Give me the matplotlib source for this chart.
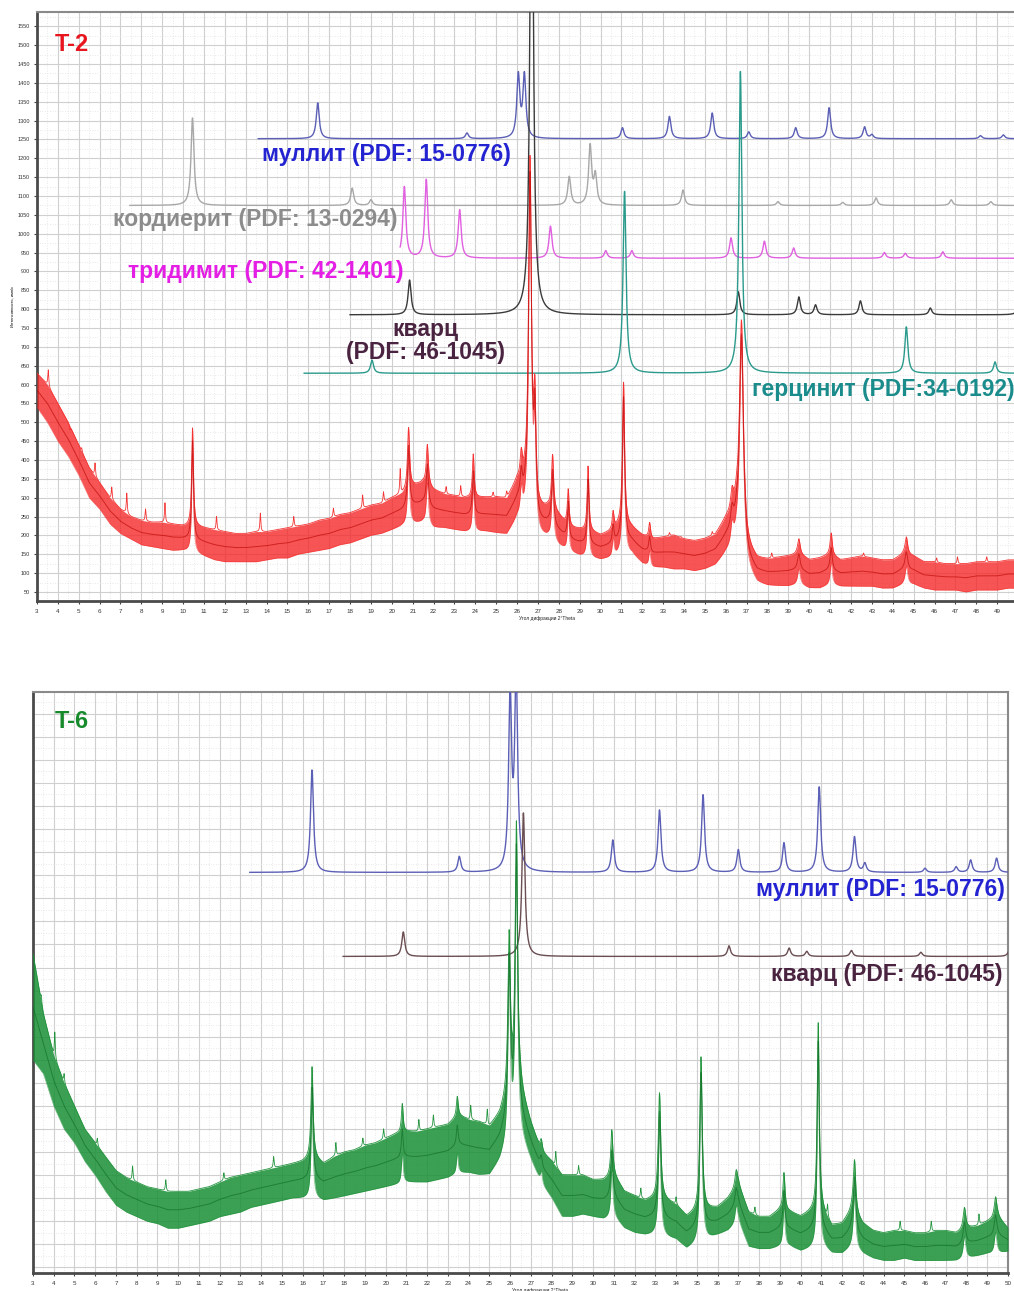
import numpy as np
import matplotlib
matplotlib.use("Agg")
import matplotlib.pyplot as plt
from matplotlib.ticker import MultipleLocator

plt.rcParams['font.family'] = ['Liberation Sans', 'DejaVu Sans']

# ---------------- data: T-2 experimental pattern (red) ----------------
angle_grid = np.arange(3.0, 50.01, 0.5)
t2_low = [540, 500, 450, 410, 360, 300, 270, 230, 205, 190,
          175, 170, 165, 160, 160, 155, 145, 135, 130, 130,
          130, 130, 135, 140, 140, 150, 155, 160, 165, 175,
          180, 190, 200, 205, 215, 225, 230, 235, 220, 220,
          215, 210, 210, 210, 205, 200, 240, 240, 190, 190,
          170, 155, 145, 140, 135, 140, 150, 150, 125, 115,
          115, 110, 110, 105, 110, 120, 150, 170, 100, 70,
          65, 65, 65, 70, 60, 60, 70, 65, 65, 65,
          65, 60, 60, 70, 70, 60, 55, 55, 55, 50,
          55, 55, 55, 60, 60]
t2_high = [630, 600, 550, 500, 440, 380, 340, 300, 270, 250,
           240, 235, 235, 230, 225, 225, 220, 215, 210, 205,
           205, 210, 210, 215, 220, 225, 230, 240, 245, 255,
           260, 270, 280, 285, 300, 310, 330, 340, 320, 310,
           305, 300, 300, 300, 300, 295, 340, 330, 260, 270,
           250, 220, 215, 210, 200, 210, 230, 220, 200, 190,
           195, 200, 190, 185, 190, 200, 240, 260, 160, 135,
           135, 140, 145, 150, 135, 140, 150, 135, 140, 145,
           140, 135, 135, 150, 145, 130, 130, 125, 125, 125,
           130, 130, 130, 135, 135]
t2_peak_pos = [10.45, 20.8, 21.7, 23.9, 26.2, 26.62, 26.85, 27.7, 28.45, 29.4,
               30.6, 31.1, 32.35, 36.3, 36.75, 39.5, 41.05, 44.65]
t2_peak_top = [485, 485, 440, 415, 400, 1190, 530, 408, 320, 382,
               260, 605, 233, 300, 770, 190, 206, 196]
t2_peak_fwhm = [0.10, 0.12, 0.12, 0.10, 0.12, 0.16, 0.12, 0.12, 0.10, 0.10,
                0.10, 0.12, 0.10, 0.15, 0.22, 0.15, 0.12, 0.15]
# small noise spikes visible on the T-2 trace
t2_spike_pos = [3.54, 4.58, 5.14, 5.78, 6.58, 7.3, 8.2, 9.13, 11.6, 13.7, 15.3, 17.2,
                18.6, 19.6, 20.4, 22.6, 23.3, 24.85, 25.5, 33.3, 33.85, 35.35, 38.2,
                42.6, 46.1, 47.1, 48.5]
t2_spike_top = [639, 480, 432, 392, 328, 312, 270, 286, 250, 259, 250, 272,
                307, 315, 373, 328, 330, 312, 312, 206, 196, 206, 150,
                153, 140, 143, 143]

# reference phases for T-2: (start angle, baseline, peak positions, peak tops)
t2_mullite_start, t2_mullite_base = 13.6, 1252
t2_mullite_pos = [16.45, 23.6, 26.06, 26.35, 31.05, 33.3, 35.35, 37.1, 39.35, 40.95, 42.65, 43.0, 48.2, 49.3]
t2_mullite_top = [1347, 1267, 1417, 1417, 1281, 1311, 1320, 1270, 1281, 1334, 1283, 1262, 1260, 1262]

t2_cord_start, t2_cord_base = 7.45, 1075
t2_cord_pos = [10.45, 18.1, 19.0, 28.5, 29.5, 29.75, 33.95, 38.5, 41.6, 43.2, 46.8, 48.7]
t2_cord_top = [1307, 1121, 1090, 1151, 1231, 1151, 1116, 1085, 1083, 1095, 1090, 1085]

t2_trid_start, t2_trid_base = 20.4, 935
t2_trid_pos = [20.6, 21.65, 23.25, 27.6, 30.25, 31.5, 36.25, 37.85, 39.25, 43.6, 44.6, 46.4]
t2_trid_top = [1124, 1143, 1063, 1020, 955, 955, 989, 980, 962, 950, 948, 952]

t2_quartz_start, t2_quartz_base = 18.0, 785
t2_quartz_pos = [20.85, 26.7, 36.6, 39.5, 40.3, 42.45, 45.8, 50.1]
t2_quartz_top = [877, 2400, 846, 832, 811, 822, 803, 835]

t2_herc_start, t2_herc_base = 15.8, 630
t2_herc_pos = [19.05, 31.15, 36.7, 44.65, 48.9]
t2_herc_top = [665, 1112, 1430, 753, 660]

# ---------------- data: T-6 experimental pattern (green) ----------------
t6_low = [500, 470, 400, 350, 320, 280, 250, 215, 185, 170,
          160, 150, 145, 135, 135, 140, 145, 150, 160, 165,
          170, 180, 185, 190, 195, 200, 200, 200, 195, 200,
          205, 210, 215, 220, 225, 230, 235, 235, 235, 240,
          245, 255, 255, 250, 250, 280, 330, 330, 280, 230,
          200, 160, 160, 165, 160, 155, 160, 135, 125, 120,
          120, 115, 110, 90, 100, 110, 120, 130, 150, 95,
          90, 90, 95, 95, 85, 90, 95, 80, 80, 95,
          80, 70, 65, 65, 70, 65, 65, 65, 65, 65,
          70, 75, 80, 80, 85]
t6_high = [730, 600, 510, 450, 400, 350, 320, 290, 260, 245,
           235, 225, 220, 215, 215, 215, 220, 225, 235, 245,
           250, 255, 260, 265, 270, 275, 280, 290, 275, 290,
           300, 305, 315, 320, 330, 340, 345, 345, 350, 355,
           360, 380, 370, 365, 355, 380, 430, 430, 360, 300,
           280, 250, 250, 250, 240, 240, 250, 215, 205, 195,
           200, 195, 185, 160, 170, 175, 180, 200, 230, 170,
           160, 160, 175, 170, 160, 170, 175, 140, 145, 175,
           145, 130, 125, 130, 130, 125, 125, 130, 130, 125,
           135, 140, 150, 160, 135]
t6_peak_pos = [16.45, 20.8, 23.45, 25.95, 26.3, 27.5, 30.9, 33.2, 35.2, 36.9,
               39.2, 40.85, 42.6, 47.9, 49.4]
t6_peak_top = [485, 405, 420, 760, 1005, 326, 348, 428, 506, 261,
               255, 580, 283, 180, 203]
t6_peak_fwhm = [0.12, 0.10, 0.10, 0.14, 0.14, 0.12, 0.12, 0.14, 0.14, 0.15,
                0.12, 0.12, 0.14, 0.15, 0.15]
t6_spike_pos = [3.4, 4.05, 4.5, 6.1, 7.8, 9.4, 12.2, 14.6, 17.6, 18.9, 19.9, 21.6,
                22.3, 24.1, 24.9, 28.2, 29.3, 32.3, 34.0, 37.8, 41.3, 44.8, 46.3, 48.6]
t6_spike_top = [640, 560, 470, 330, 270, 240, 255, 290, 320, 330, 350, 370,
                380, 400, 390, 300, 270, 220, 200, 180, 180, 150, 150, 165]

t6_mullite_start, t6_mullite_base = 13.45, 906
t6_mullite_pos = [16.45, 23.55, 26.0, 26.29, 30.95, 33.2, 35.3, 37.0, 39.2, 40.9, 42.6, 43.1, 46.0, 47.5, 48.2, 49.45]
t6_mullite_top = [1128, 940, 1284, 1330, 976, 1041, 1074, 955, 970, 1091, 983, 925, 915, 918, 933, 937]

t6_quartz_start, t6_quartz_base = 17.95, 724
t6_quartz_pos = [20.85, 26.64, 36.55, 39.45, 40.3, 42.45, 45.8, 50.1]
t6_quartz_top = [777, 1035, 747, 742, 735, 737, 733, 745]

t2_x_ticks = list(range(3, 50))
t6_x_ticks = list(range(3, 51))
t2_y_ticks = list(range(50, 1551, 50))

# ---------------- helpers ----------------
xf = np.linspace(3.0, 50.0, 9401)


def lorentz_sum(x, pos, heights, fwhm):
    out = np.zeros_like(x)
    for p, h, w in zip(pos, heights, fwhm):
        out += h / (1.0 + ((x - p) / (w / 2.0)) ** 2)
    return out


def draw_experimental(ax, low, high, pos, top, fwhm, spos, stop, color, edge, alpha):
    lo = np.interp(xf, angle_grid, low)
    hi = np.interp(xf, angle_grid, high)
    heights = np.array(top) - np.interp(pos, angle_grid, high)
    prof = lorentz_sum(xf, pos, heights, fwhm)
    sh = np.array(stop) - np.interp(spos, angle_grid, high)
    spikes = lorentz_sum(xf, spos, sh, [0.05] * len(spos))
    ax.fill_between(xf, lo + prof, hi + prof, color=color, lw=0, alpha=alpha, zorder=4)
    ax.plot(xf, hi + prof + spikes, color=color, lw=0.6, alpha=0.95, zorder=4)
    ax.plot(xf, lo + prof, color=color, lw=0.5, alpha=0.6, zorder=4)
    ax.plot(xf, (lo + hi) / 2 + prof, color=edge, lw=0.7, alpha=0.6, zorder=5)


def draw_reference(ax, start, base, pos, top, color, fwhm=0.17, lw=1.0):
    xs = xf[xf >= start]
    heights = np.array(top) - base
    y = base + lorentz_sum(xs, pos, heights, [fwhm] * len(pos))
    ax.plot(xs, y, color=color, lw=lw, zorder=3)


def style_axes(ax, ylim, show_y, xt):
    ax.set_xlim(3, 50)
    ax.set_ylim(*ylim)
    ax.xaxis.set_minor_locator(MultipleLocator(0.5))
    ax.yaxis.set_major_locator(MultipleLocator(50))
    ax.yaxis.set_minor_locator(MultipleLocator(25))
    ax.set_xticks(xt)
    ax.set_xticklabels([str(t) for t in xt], fontsize=4.5, color='#333333')
    ax.grid(True, which='major', color='#cfcfcf', lw=0.8, zorder=0)
    ax.grid(True, which='minor', color='#e2e2e2', lw=0.6, ls=(0, (1, 2)), zorder=0)
    ax.set_axisbelow(True)
    ax.tick_params(axis='x', which='major', length=2, pad=4, color='#444444')
    ax.tick_params(axis='both', which='minor', length=0)
    if show_y:
        ax.set_yticks(t2_y_ticks)
        ax.set_yticklabels([str(t) for t in t2_y_ticks], fontsize=4, color='#333333')
        ax.tick_params(axis='y', which='major', length=2, pad=3, color='#444444')
    else:
        ax.tick_params(axis='y', which='major', length=0, labelleft=False)
    for s in ('left', 'bottom'):
        ax.spines[s].set_color('#4a4a4a')
        ax.spines[s].set_linewidth(2.0)
    for s in ('top', 'right'):
        ax.spines[s].set_color('#8a8a8a')
        ax.spines[s].set_linewidth(1.5)
    ax.set_xlabel('Угол дифракции 2°Theta', fontsize=3.5, labelpad=1, color='#222222')
    ax.xaxis.set_label_coords(0.52, -0.025)


fig = plt.figure(figsize=(10.14, 12.91), dpi=100)

# ---------------- top panel (T-2) ----------------
ax1 = fig.add_axes([37 / 1014, 1 - 601 / 1291, 981 / 1014, 589 / 1291])
style_axes(ax1, (26, 1588), True, t2_x_ticks)
ax1.set_ylabel('Интенсивность, имп/с', fontsize=3, labelpad=2)

draw_reference(ax1, t2_mullite_start, t2_mullite_base, t2_mullite_pos, t2_mullite_top, '#5b5fb5')
draw_reference(ax1, t2_cord_start, t2_cord_base, t2_cord_pos, t2_cord_top, '#a8a8a8')
draw_reference(ax1, t2_trid_start, t2_trid_base, t2_trid_pos, t2_trid_top, '#e060e0')
draw_reference(ax1, t2_quartz_start, t2_quartz_base, t2_quartz_pos, t2_quartz_top, '#3a3a3a')
draw_reference(ax1, t2_herc_start, t2_herc_base, t2_herc_pos, t2_herc_top, '#2a9a8c')
draw_experimental(ax1, t2_low, t2_high, t2_peak_pos, t2_peak_top, t2_peak_fwhm,
                  t2_spike_pos, t2_spike_top, '#f52a2a', '#b80000', 0.8)

lab = dict(fontsize=16.5, fontweight='bold', zorder=6)
ax1.text(3.86, 1501, 'T-2', color='#e8141e', va='center', ha='left',
         fontsize=17, fontweight='bold', zorder=6)
ax1.text(13.78, 1209, 'муллит (PDF: 15-0776)', color='#2323d2', va='center', ha='left', **lab)
ax1.text(6.64, 1037, 'кордиерит (PDF: 13-0294)', color='#8c8c8c', va='center', ha='left', **lab)
ax1.text(7.36, 901, 'тридимит (PDF: 42-1401)', color='#e41ee4', va='center', ha='left', **lab)
ax1.text(21.6, 745, 'кварц', color='#4a2340', va='center', ha='center', **lab)
ax1.text(21.6, 684, '(PDF: 46-1045)', color='#4a2340', va='center', ha='center', **lab)
ax1.text(37.26, 586, 'герцинит (PDF:34-0192)', color='#1a8c8c', va='center', ha='left', **lab)

# ---------------- bottom panel (T-6) ----------------
ax2 = fig.add_axes([33 / 1014, 1 - 1273 / 1291, 975 / 1014, 581 / 1291])
style_axes(ax2, (38, 1297), False, t6_x_ticks)

draw_reference(ax2, t6_mullite_start, t6_mullite_base, t6_mullite_pos, t6_mullite_top, '#5b5fb5')
draw_reference(ax2, t6_quartz_start, t6_quartz_base, t6_quartz_pos, t6_quartz_top, '#6a4e52')
draw_experimental(ax2, t6_low, t6_high, t6_peak_pos, t6_peak_top, t6_peak_fwhm,
                  t6_spike_pos, t6_spike_top, '#1a9036', '#0b6a22', 0.85)

ax2.text(4.06, 1232, 'T-6', color='#178a2c', va='center', ha='left',
         fontsize=17, fontweight='bold', zorder=6)
ax2.text(49.85, 868, 'муллит (PDF: 15-0776)', color='#2323d2', va='center', ha='right', **lab)
ax2.text(49.72, 684, 'кварц (PDF: 46-1045)', color='#4a2340', va='center', ha='right', **lab)

fig.savefig('out.png', dpi=100)
